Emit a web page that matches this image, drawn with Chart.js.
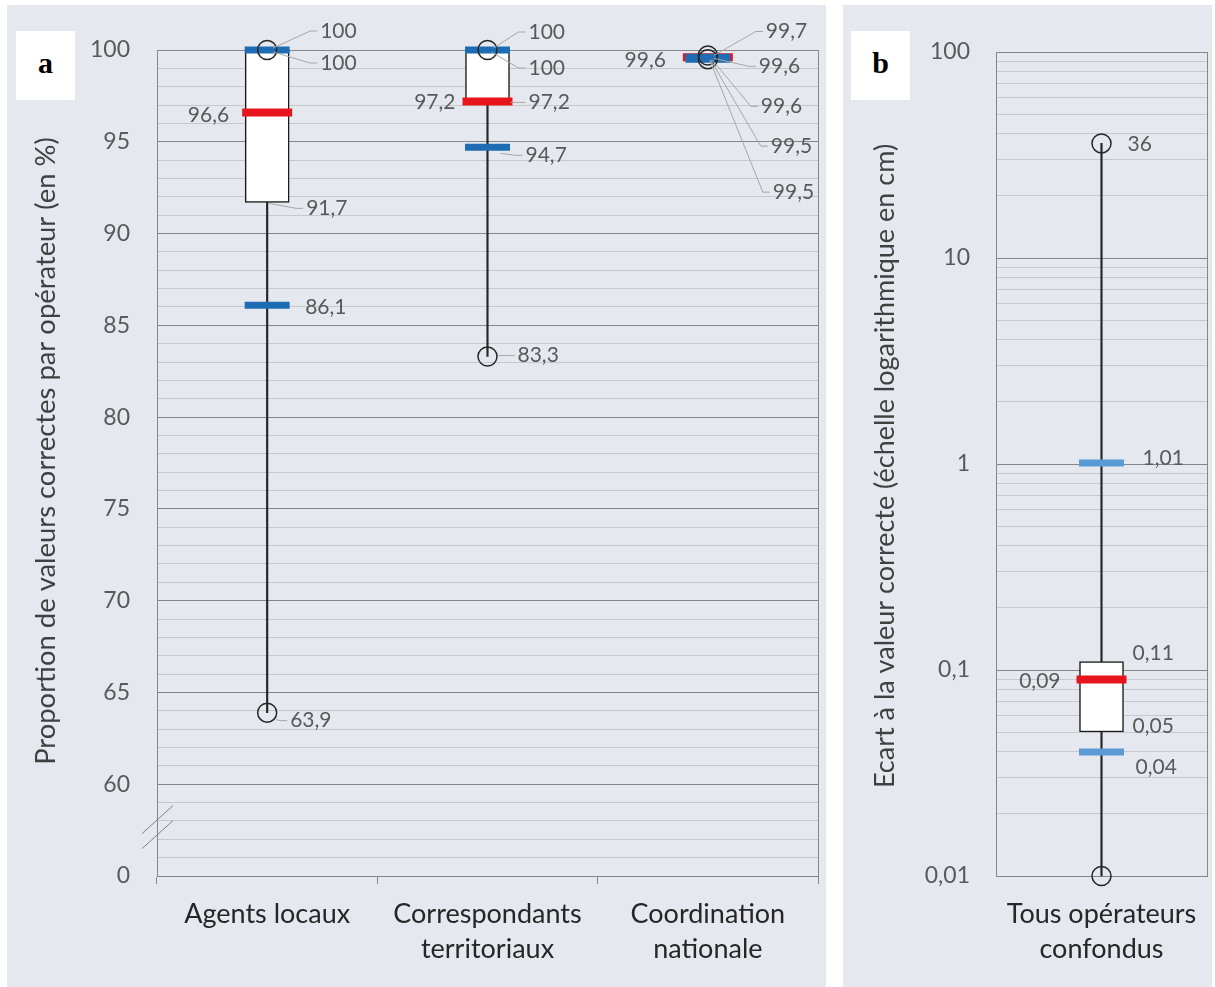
<!DOCTYPE html>
<html>
<head>
<meta charset="utf-8">
<script src="https://cdn.jsdelivr.net/npm/chart.js@4.4.0/dist/chart.umd.min.js"></script>
<style>
  html, body { margin: 0; padding: 0; background: #fff; }
  body { width: 1215px; height: 987px; position: relative; overflow: hidden; }
  .panel { position: absolute; background: #e6e8ef; }
  #panelA { left: 7px; top: 5px; width: 819px; height: 982px; }
  #panelB { left: 843px; top: 5px; width: 369px; height: 982px; }
  canvas { position: absolute; top: 5px; }
  #chartA { left: 7px; }
  #chartB { left: 843px; }
  .tag { position: absolute; top: 31px; width: 59px; height: 69px; background: #fff;
         font-family: "Liberation Serif", "DejaVu Serif", serif; font-weight: bold;
         font-size: 30px; line-height: 64px; text-align: center; color: #000; }
</style>
</head>
<body>
<div class="panel" id="panelA"></div>
<div class="panel" id="panelB"></div>
<canvas id="chartA" width="819" height="982"></canvas>
<canvas id="chartB" width="369" height="982"></canvas>
<div class="tag" style="left:16px">a</div>
<div class="tag" style="left:851px">b</div>
<script>
// --- panel a : proportion of correct values per operator (%) ---
const categoriesA = [['Agents locaux'], ['Correspondants', 'territoriaux'], ['Coordination', 'nationale']];
const maxA      = [100, 100, 99.7];
const blueHighA = [100, 100, 99.6];
const q3A       = [100, 100, 99.6];
const medianA   = [96.6, 97.2, 99.6];
const q1A       = [91.7, 97.2, 99.6];
const blueLowA  = [86.1, 94.7, 99.5];
const minA      = [63.9, 83.3, 99.5];
const yTicksA   = [55, 60, 65, 70, 75, 80, 85, 90, 95, 100];
const yLabelsA  = ['0', '60', '65', '70', '75', '80', '85', '90', '95', '100'];

// --- panel b : distance to correct value (cm, log scale) ---
const categoriesB = [['Tous opérateurs', 'confondus']];
const maxB      = [36];
const blueHighB = [1.01];
const q3B       = [0.11];
const medianB   = [0.09];
const q1B       = [0.05];
const blueLowB  = [0.04];
const minB      = [0.01];
const yTicksB   = [0.01, 0.1, 1, 10, 100];
const yLabelsB  = ['0,01', '0,1', '1', '10', '100'];

const majorGrid = '#868686';
const minorGrid = '#c6c8cc';
const tickColor = '#595959';
const labelColor = '#595959';
const red = '#e8141b';
const font = 'Lato, "Open Sans", sans-serif';

const fmt = v => String(v).replace('.', ',');

function boxDatasets(s, blue) {
  const pts = (data, order) => ({
    type: 'line', data, showLine: false, pointStyle: 'circle', pointRadius: 9.5,
    pointBorderWidth: 1.5, pointBorderColor: '#262626', pointBackgroundColor: 'rgba(0,0,0,0)',
    order, clip: false
  });
  const mark = (data, color, r, w, order) => ({
    type: 'line', data, showLine: false, pointStyle: 'line', pointRadius: r,
    pointBorderWidth: w, pointBorderColor: color, order, clip: false
  });
  return [
    pts(s.max, 0),
    pts(s.min, 0),
    mark(s.blueHigh, blue, 22.5, 7, 1),
    mark(s.blueLow, blue, 22.5, 7, 1),
    mark(s.median, red, 25, 8, 2),
    { type: 'bar', data: s.q1.map((v, i) => [v, s.q3[i]]), backgroundColor: '#fff',
      borderColor: '#1a1a1a', borderWidth: 1.5, borderSkipped: false, barThickness: 44,
      grouped: false, order: 3, clip: false },
    { type: 'bar', data: s.min.map((v, i) => [v, s.max[i]]), backgroundColor: '#262626',
      barThickness: 1.5, grouped: false, order: 4, clip: false }
  ];
}

// draws right border, value labels with leader lines, axis title, axis break
function makeExtras(cfg) {
  return {
    id: 'extras',
    beforeDatasetsDraw(chart) {
      const {ctx, chartArea: a} = chart;
      const xr = Math.round(a.right) + 0.5;
      ctx.save();
      ctx.strokeStyle = majorGrid; ctx.lineWidth = 1;
      ctx.beginPath(); ctx.moveTo(xr, a.top); ctx.lineTo(xr, a.bottom); ctx.stroke();
      ctx.restore();
    },
    afterDatasetsDraw(chart) {
      const {ctx, chartArea: a, scales: {x, y}} = chart;
      ctx.save();
      ctx.font = '21px ' + font;
      ctx.textBaseline = 'middle';
      cfg.labels.forEach(l => {
        const v = cfg.series[l.s][l.i];
        const cx = x.getPixelForValue(l.i);
        const py = y.getPixelForValue(v);
        const lx = cx + l.dx, ly = py + l.dy;
        if (l.leader) {
          ctx.strokeStyle = '#a6a6a6'; ctx.lineWidth = 1;
          ctx.beginPath();
          ctx.moveTo(cx + l.fx, py + (l.fy || 0));
          ctx.lineTo(lx - 10, ly);
          ctx.lineTo(lx - 3, ly);
          ctx.stroke();
        }
        ctx.fillStyle = labelColor;
        ctx.textAlign = l.dx < 0 ? 'right' : 'left';
        ctx.fillText(fmt(v), lx, ly);
      });
      // axis title
      ctx.save();
      ctx.translate(cfg.title.x, (a.top + a.bottom) / 2 + cfg.title.dy);
      ctx.rotate(-Math.PI / 2);
      ctx.font = cfg.title.size + 'px ' + font;
      ctx.fillStyle = '#404040';
      ctx.textAlign = 'center';
      ctx.textBaseline = 'middle';
      ctx.fillText(cfg.title.text, 0, 0);
      ctx.restore();
      // axis break marks
      if (cfg.breakAt !== undefined) {
        const yc = y.getPixelForValue(cfg.breakAt) - 3;
        ctx.strokeStyle = '#808080'; ctx.lineWidth = 1;
        [-7.5, 7.5].forEach(k => {
          ctx.beginPath();
          ctx.moveTo(a.left - 15, yc + k + 14);
          ctx.lineTo(a.left + 16, yc + k - 14);
          ctx.stroke();
        });
      }
      ctx.restore();
    }
  };
}

const baseOptions = (yScale, xOpts, pad, yWidth) => ({
  responsive: false,
  animation: false,
  events: [],
  layout: { padding: pad, autoPadding: false },
  plugins: { legend: { display: false }, tooltip: { enabled: false } },
  scales: {
    x: Object.assign({
      type: 'category',
      offset: true,
      afterFit: s => { s.height = 111; s.paddingLeft = 0; s.paddingRight = 0; }
    }, xOpts),
    y: Object.assign(yScale, {
      afterFit: s => { s.width = yWidth; s.paddingTop = 0; s.paddingBottom = 0; }
    })
  }
});

const catTicks = pad => ({ color: '#262626', font: { family: font, size: 27, lineHeight: 1.3 }, maxRotation: 0, autoSkip: false, padding: pad });

// ----- chart a -----
const seriesA = { max: maxA, min: minA, blueHigh: blueHighA, blueLow: blueLowA, median: medianA, q1: q1A, q3: q3A };
new Chart(document.getElementById('chartA'), {
  type: 'bar',
  data: { labels: categoriesA, datasets: boxDatasets(seriesA, '#1e6db4') },
  options: baseOptions({
    type: 'linear', min: 55, max: 100,
    afterBuildTicks: s => { const t = []; for (let v = 55; v <= 100; v++) t.push({ value: v }); s.ticks = t; },
    ticks: {
      autoSkip: false, padding: 27, color: tickColor, font: { family: font, size: 23 },
      callback: v => { const k = yTicksA.indexOf(v); return k >= 0 ? yLabelsA[k] : ''; }
    },
    grid: { drawTicks: false, color: c => (c.tick && yTicksA.includes(c.tick.value)) ? majorGrid : minorGrid },
    border: { display: true, color: majorGrid }
  }, {
    grid: { display: true, drawOnChartArea: false, drawTicks: true, tickLength: 8, color: majorGrid, offset: true },
    border: { display: true, color: majorGrid },
    ticks: catTicks(13)
  }, { top: 45, right: 8, left: 0, bottom: 0 }, 150),
  plugins: [makeExtras({
    series: seriesA,
    breakAt: 57.5,
    title: { text: 'Proportion de valeurs correctes par opérateur (en %)', x: 39, dy: -12, size: 27.4 },
    labels: [
      { s: 'max', i: 0, dx: 53, dy: -19, leader: true, fx: 6, fy: -2 },
      { s: 'blueHigh', i: 0, dx: 53, dy: 13, leader: true, fx: 6, fy: 2 },
      { s: 'median', i: 0, dx: -38, dy: 3 },
      { s: 'q1', i: 0, dx: 39, dy: 6, leader: true, fx: 2, fy: 1 },
      { s: 'blueLow', i: 0, dx: 38, dy: 2 },
      { s: 'min', i: 0, dx: 23, dy: 8, leader: true, fx: 9, fy: 7 },
      { s: 'max', i: 1, dx: 41, dy: -18, leader: true, fx: 6, fy: -2 },
      { s: 'blueHigh', i: 1, dx: 41, dy: 18, leader: true, fx: 4, fy: 2 },
      { s: 'median', i: 1, dx: -32, dy: 1 },
      { s: 'q1', i: 1, dx: 41, dy: 1, leader: true, fx: 23, fy: 1 },
      { s: 'blueLow', i: 1, dx: 38, dy: 8, leader: true, fx: 13, fy: 6 },
      { s: 'min', i: 1, dx: 30, dy: -1, leader: true, fx: 11, fy: -1 },
      { s: 'max', i: 2, dx: 58, dy: -24, leader: true, fx: 6, fy: 0 },
      { s: 'blueHigh', i: 2, dx: 51, dy: 9, leader: true, fx: 6, fy: 1 },
      { s: 'median', i: 2, dx: -42, dy: 3 },
      { s: 'q1', i: 2, dx: 53, dy: 49, leader: true, fx: 4, fy: 2 },
      { s: 'blueLow', i: 2, dx: 63, dy: 87, leader: true, fx: 3, fy: 1 },
      { s: 'min', i: 2, dx: 65, dy: 133, leader: true, fx: 2, fy: 1 }
    ]
  })]
});

// ----- chart b -----
const seriesB = { max: maxB, min: minB, blueHigh: blueHighB, blueLow: blueLowB, median: medianB, q1: q1B, q3: q3B };
new Chart(document.getElementById('chartB'), {
  type: 'bar',
  data: { labels: categoriesB, datasets: boxDatasets(seriesB, '#5b9bd5') },
  options: baseOptions({
    type: 'logarithmic', min: 0.01, max: 100,
    afterBuildTicks: s => {
      const t = [];
      for (let e = -2; e < 2; e++) for (let m = 1; m <= 9; m++) t.push({ value: Number((m * Math.pow(10, e)).toPrecision(3)) });
      t.push({ value: 100 });
      s.ticks = t;
    },
    ticks: {
      autoSkip: false, padding: 26, color: tickColor, font: { family: font, size: 23 },
      callback: v => { const k = yTicksB.indexOf(v); return k >= 0 ? yLabelsB[k] : ''; }
    },
    grid: { drawTicks: false, color: c => (c.tick && yTicksB.includes(c.tick.value)) ? majorGrid : minorGrid },
    border: { display: true, color: majorGrid }
  }, {
    grid: { display: true, drawOnChartArea: false, drawTicks: false, color: majorGrid },
    border: { display: true, color: majorGrid },
    ticks: catTicks(21)
  }, { top: 47, right: 5, left: 0, bottom: 0 }, 153),
  plugins: [makeExtras({
    series: seriesB,
    title: { text: 'Ecart à la valeur correcte (échelle logarithmique en cm)', x: 42, dy: 2, size: 27 },
    labels: [
      { s: 'max', i: 0, dx: 26, dy: 1 },
      { s: 'blueHigh', i: 0, dx: 41, dy: -5 },
      { s: 'q3', i: 0, dx: 31, dy: -8 },
      { s: 'median', i: 0, dx: -41, dy: 2 },
      { s: 'q1', i: 0, dx: 31, dy: -6 },
      { s: 'blueLow', i: 0, dx: 34, dy: 15 }
    ]
  })]
});
</script>
</body>
</html>
